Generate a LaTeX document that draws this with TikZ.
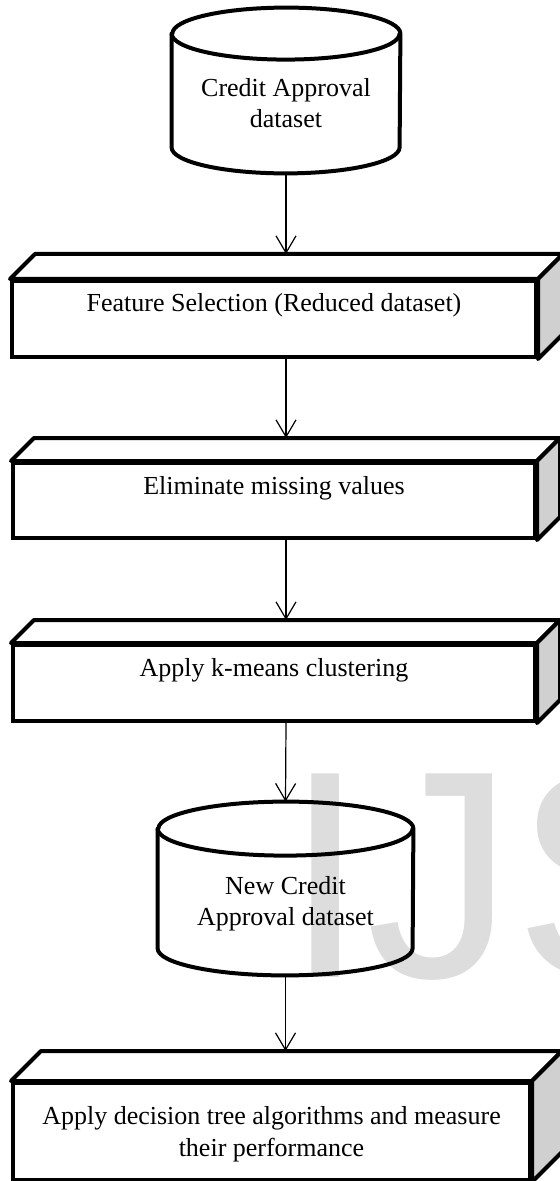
\documentclass[tikz,border=0pt]{standalone}
\usepackage{fontspec}
\setmainfont{Liberation Serif}
\newfontfamily\wmfont{Liberation Sans}
\usetikzlibrary{arrows.meta}
\definecolor{sidegray}{RGB}{208,208,208}
\definecolor{wmgray}{RGB}{221,221,221}
\tikzset{
  block/.style={draw, line width=2pt, fill=white, inner sep=0pt, align=center,
    font=\fontsize{13pt}{16pt}\selectfont},
  face/.style={draw, line width=2pt, line join=round},
  dbase/.style={inner sep=0pt, align=center, font=\fontsize{13pt}{15.5pt}\selectfont},
  flow/.style={-{Straight Barb[length=8.5pt,width=10pt]}, line width=0.6pt},
}
% top and side of a block, #2 = depth
\newcommand\boxfaces[2]{%
  \draw[face, fill=white] (#1.north west) -- ++(#2,-#2) -- ([shift={(#2,-#2)}]#1.north east) -- (#1.north east) -- cycle;
  \draw[face, fill=sidegray] (#1.north east) -- ++(#2,-#2) -- ([shift={(#2,-#2)}]#1.south east) -- (#1.south east) -- cycle;
  \coordinate (#1-back) at ([shift={(#2,-#2)}]#1.north west);
}
% outline of a database drum round a node, #2 = x radius, #3 = y radius
\newcommand\drum[3]{%
  \draw[face] ([yshift=-#3]#1.north west) -- ([yshift=#3]#1.south west)
    arc[start angle=180, end angle=360, x radius=#2, y radius=#3]
    -- ([yshift=-#3]#1.north east)
    arc[start angle=0, end angle=180, x radius=#2, y radius=#3] -- cycle;
  \draw[face] ([yshift=-#3]#1.north west) arc[start angle=180, end angle=360, x radius=#2, y radius=#3];
}
\begin{document}
\begin{tikzpicture}[x=0.5pt, y=-0.5pt]
	\useasboundingbox (0,0) rectangle (560,1181);
	\clip (0,0) rectangle (560,1181);
	\node[anchor=base west, inner sep=0pt, text=wmgray, font=\wmfont\fontsize{148pt}{148pt}\selectfont] (wm) at (284,977) {IJS};

	\node[dbase, minimum width=114pt, text height=60pt, text depth=22.5pt] (cad) at (286,90.5) {Credit Approval\\dataset};
	\drum{cad}{57pt}{13pt}

	\node[block, minimum width=262pt, text height=15.5pt, text depth=22.5pt] (fs) at (274,319) {Feature Selection (Reduced dataset)};
	\boxfaces{fs}{25}
	\node[block, minimum width=261pt, text height=15.5pt, text depth=22pt] (em) at (274,500.5) {Eliminate missing values};
	\boxfaces{em}{23}
	\node[block, minimum width=261pt, text height=15.5pt, text depth=22.5pt] (km) at (274,683) {Apply k-means clustering};
	\boxfaces{km}{23}

	\node[dbase, minimum width=127.5pt, text height=61.5pt, text depth=25pt] (ncad) at (285.5,888.5) {New Credit\\Approval dataset};
	\drum{ncad}{63.75pt}{13.5pt}

	\node[block, minimum width=258.5pt, text height=36.5pt, text depth=12pt] (dt) at (271.5,1131.5) {Apply decision tree algorithms and measure\\their performance};
	\boxfaces{dt}{30}

	\draw[flow] (cad.south) -- (fs-back -| cad.south);
	\draw[flow] (fs.south -| cad.south) -- (em-back -| cad.south);
	\draw[flow] (em.south -| cad.south) -- (km-back -| cad.south);
	\draw[flow] (km.south -| cad.south) -- (ncad.north);
	\draw[flow] (ncad.south) -- (dt-back -| ncad.south);
\end{tikzpicture}
\end{document}
